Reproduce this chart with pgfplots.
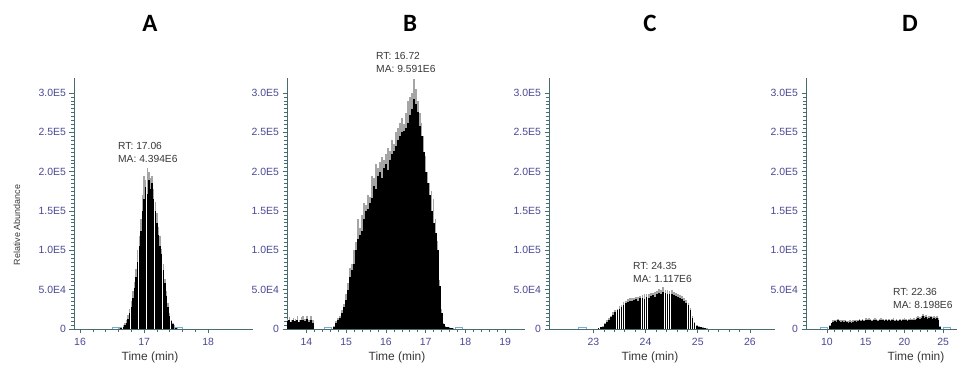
\documentclass[border=0pt]{standalone}
\usepackage{pgfplots}
\pgfplotsset{compat=1.18}
\usepackage{pgfplotstable}
\usepackage{fontspec}
\setmainfont{Liberation Sans}
\newfontfamily\calibri{Carlito}
\definecolor{axc}{RGB}{70,110,110}
\definecolor{tkc}{RGB}{72,72,150}
\definecolor{annc}{RGB}{55,55,55}
\definecolor{mk}{RGB}{120,170,215}
\definecolor{spk}{RGB}{165,165,165}

% t  body  spike   (abundance in thousands)
\pgfplotstableread{
t y s
16.600 0.5 1
16.625 1 2
16.650 1.5 3
16.675 3 5
16.700 5 8
16.725 8 12
16.750 13 18
16.775 20 26
16.800 28 36
16.825 40 48
16.850 52 60
16.875 66 76
16.900 85 100
16.925 105 118
16.950 125 140
16.975 150 170
17.000 165 195
17.025 180 190
17.050 172 205
17.075 190 200
17.100 178 192
17.125 185 195
17.150 165 178
17.175 150 162
17.200 135 148
17.225 120 130
17.250 106 118
17.275 95 102
17.300 75 82
17.325 58 64
17.350 42 48
17.375 28 33
17.400 17 20
17.425 10 12
17.450 6 8
17.475 3 5
17.500 1.5 2
17.525 0.5 1
}\dataA

\pgfplotstableread{
t y s
13.52 10 13
13.57 12 15
13.62 9 12
13.67 11 14
13.72 10 13
13.77 12 16
13.82 9 11
13.87 11 15
13.92 12 16
13.97 10 13
14.02 13 17
14.07 9 12
14.12 11 16
14.17 8 12
14.70 3 4
14.75 8 10
14.80 11 14
14.85 14 17
14.90 20 24
14.95 28 32
15.00 37 45
15.05 50 58
15.10 66 78
15.15 75 82
15.20 82 100
15.25 100 110
15.30 115 140
15.35 120 128
15.40 125 145
15.45 140 160
15.50 150 158
15.55 152 170
15.60 160 168
15.65 166 195
15.70 182 192
15.75 178 210
15.80 195 205
15.85 200 212
15.90 192 218
15.95 205 215
16.00 210 222
16.05 202 230
16.10 215 226
16.15 222 240
16.20 226 235
16.25 232 250
16.30 240 255
16.35 245 262
16.40 250 268
16.45 252 260
16.50 256 275
16.55 262 290
16.60 272 295
16.65 280 300
16.70 292 318
16.75 286 305
16.80 276 290
16.85 258 275
16.90 245 262
16.95 225 245
17.00 200 220
17.05 185 200
17.10 170 185
17.15 150 175
17.20 135 165
17.25 122 140
17.30 100 112
17.35 55 62
17.40 20 25
17.45 6 8
17.50 3 4
17.55 2 3
17.60 1.5 2
17.65 1 1.5
17.70 0.5 1
}\dataB

\pgfplotstableread{
t y s
23.10 1 1.5
23.14 2 3
23.18 3 4
23.22 6 7
23.26 9 11
23.30 12 14
23.34 15 17
23.38 18 21
23.42 21 24
23.46 24 26
23.50 26 29
23.54 28 31
23.58 31 34
23.62 33 36
23.66 34 38
23.70 36 39
23.74 35 40
23.78 37 40
23.82 38 41
23.86 36 41
23.90 39 42
23.94 40 43
23.98 38 44
24.02 41 44
24.06 40 45
24.10 42 46
24.14 43 46
24.18 41 47
24.22 44 48
24.26 46 51
24.30 45 49
24.34 47 53
24.38 46 50
24.42 45 49
24.46 44 48
24.50 45 49
24.54 43 47
24.58 42 46
24.62 41 45
24.66 39 43
24.70 38 42
24.74 36 39
24.78 33 37
24.82 30 33
24.86 24 27
24.90 14 17
24.94 7 9
24.98 4 5
25.02 3 4
25.06 2 3
25.10 1.5 2
25.14 1 1.5
25.18 0.5 1
}\dataC

\pgfplotstableread{
t y s
10.4 4 5
10.6 7 8
10.8 9 11
11.0 10 12
11.2 9 11
11.4 11 13
11.6 10 12
11.8 9 11
12.0 10 12
12.2 9 11
12.4 10 12
12.6 9 10
12.8 8 10
13.0 9 11
13.2 8 10
13.4 9 11
13.6 10 12
13.8 9 11
14.0 10 12
14.2 11 13
14.4 10 12
14.6 11 13
14.8 10 12
15.0 12 14
15.2 11 13
15.4 12 14
15.6 11 13
15.8 10 12
16.0 11 13
16.2 12 14
16.4 11 13
16.6 10 12
16.8 11 13
17.0 12 14
17.2 11 13
17.4 10 12
17.6 11 13
17.8 10 12
18.0 11 13
18.2 10 12
18.4 11 13
18.6 12 14
18.8 10 12
19.0 11 13
19.2 10 12
19.4 11 13
19.6 10 12
19.8 11 13
20.0 12 14
20.2 11 13
20.4 10 12
20.6 11 13
20.8 12 14
21.0 11 13
21.2 12 14
21.4 11 13
21.6 13 15
21.8 14 16
22.0 13 15
22.2 14 17
22.4 16 19
22.6 14 17
22.8 15 18
23.0 13 15
23.2 14 16
23.4 15 17
23.6 13 15
23.8 14 16
24.0 13 15
24.2 14 16
24.4 12 14
24.6 3 4
}\dataD

\pgfplotsset{chrom/.style={
  scale only axis, anchor=south west, height=251bp,
  axis lines*=left,
  axis line style={axc, line width=0.8bp},
  ymin=0, ymax=319,
  ytick={0,50,100,150,200,250,300},
  yticklabels={0,5.0E4,1.0E5,1.5E5,2.0E5,2.5E5,3.0E5},
  minor y tick num=9, minor x tick num=4,
  tick align=outside,
  major tick length=4.5bp, minor tick length=3bp,
  tick style={axc, line width=0.7bp},
  minor tick style={axc, line width=0.6bp},
  ticklabel style={text=tkc, font=\fontsize{10.5}{12}\selectfont},
  /pgf/number format/assume math mode=true,
  xticklabel style={yshift=-1bp},
}}

\begin{document}
\begin{tikzpicture}
\path[use as bounding box] (0,0) rectangle (957bp,371bp);

% Panel A
\begin{axis}[chrom, at={(74bp,42bp)}, width=179bp, xmin=15.906, xmax=18.70, xtick={16,17,18}]
\addplot[ycomb, spk, line width=1.3bp] table[x=t,y=s] {\dataA};
\addplot[ycomb, black, line width=1.3bp] table[x=t,y=y] {\dataA};
\addplot[mk, line width=0.7bp] coordinates {(16.50,0) (16.50,2.5) (16.62,2.5) (16.62,0)};
\addplot[mk, line width=0.7bp] coordinates {(17.47,0) (17.47,2.5) (17.59,2.5) (17.59,0)};
\end{axis}

% Panel B
\begin{axis}[chrom, at={(287bp,42bp)}, width=238bp, xmin=13.51, xmax=19.5, xtick={14,15,16,17,18,19}]
\addplot[ycomb, spk, line width=1.6bp] table[x=t,y=s] {\dataB};
\addplot[ycomb, black, line width=2.1bp] table[x=t,y=y] {\dataB};
\addplot[mk, line width=0.7bp] coordinates {(14.45,0) (14.45,2.5) (14.62,2.5) (14.62,0)};
\addplot[mk, line width=0.7bp] coordinates {(17.75,0) (17.75,2.5) (17.92,2.5) (17.92,0)};
\end{axis}

% Panel C
\begin{axis}[chrom, at={(549bp,42bp)}, width=226bp, xmin=22.15, xmax=26.48, xtick={23,24,25,26}]
\addplot[ycomb, spk, line width=1.7bp] table[x=t,y=s] {\dataC};
\addplot[ycomb, black, line width=1.7bp] table[x=t,y=y] {\dataC};
\addplot[mk, line width=0.7bp] coordinates {(22.72,0) (22.72,2.5) (22.86,2.5) (22.86,0)};
\end{axis}

% Panel D
\begin{axis}[chrom, at={(806bp,42bp)}, width=151bp, xmin=7.29, xmax=26.8, xtick={10,15,20,25}]
\addplot[ycomb, spk, line width=1.7bp] table[x=t,y=s] {\dataD};
\addplot[ycomb, black, line width=1.7bp] table[x=t,y=y] {\dataD};
\addplot[mk, line width=0.7bp] coordinates {(9.2,0) (9.2,2.5) (10.1,2.5) (10.1,0)};
\addplot[mk, line width=0.7bp] coordinates {(25.0,0) (25.0,2.5) (25.9,2.5) (25.9,0)};
\end{axis}

% Titles
\foreach \lab/\xx in {A/150,B/410,C/650,D/910}{
  \node[font=\calibri\bfseries\fontsize{25}{28}\selectfont] at (\xx bp,348bp) {\lab};
}
% Annotations
\tikzset{ann/.style={anchor=north west, align=left, inner sep=0pt, text=annc, font=\fontsize{10.3}{13}\selectfont}}
\node[ann] at (118bp,229bp) {RT: 17.06\\MA: 4.394E6};
\node[ann] at (376bp,319bp) {RT: 16.72\\MA: 9.591E6};
\node[ann] at (633bp,109bp) {RT: 24.35\\MA: 1.117E6};
\node[ann] at (893bp,83bp) {RT: 22.36\\MA: 8.198E6};
% Axis titles
\foreach \xx in {150,397,650,916}{
  \node[font=\fontsize{12}{14}\selectfont, text=annc] at (\xx bp,14bp) {Time (min)};
}
\node[rotate=90, font=\fontsize{9}{11}\selectfont, text=annc] at (17bp,146bp) {Relative Abundance};
\end{tikzpicture}
\end{document}
